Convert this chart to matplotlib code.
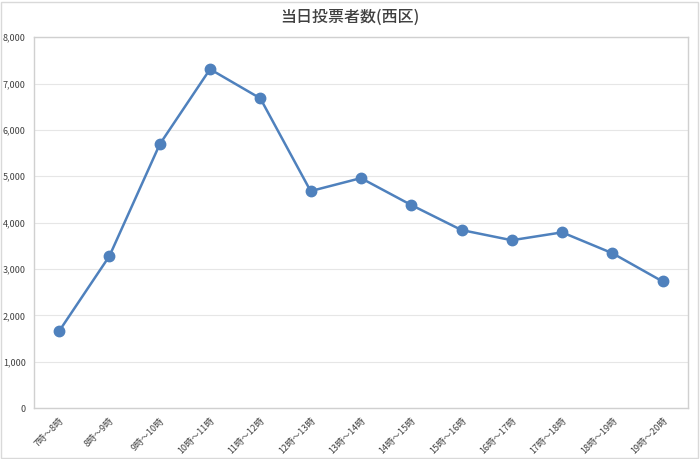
import matplotlib.pyplot as plt
from matplotlib.ticker import FuncFormatter, MultipleLocator
from matplotlib.patches import Rectangle

plt.rcParams['font.family'] = ['Noto Sans CJK JP', 'DejaVu Sans']

hours = ["7時～8時", "8時～9時", "9時～10時", "10時～11時", "11時～12時", "12時～13時",
         "13時～14時", "14時～15時", "15時～16時", "16時～17時", "17時～18時",
         "18時～19時", "19時～20時"]
voters = [1660, 3280, 5690, 7310, 6680, 4680, 4960, 4380, 3840, 3620, 3790, 3340, 2730]

fig = plt.figure(figsize=(7, 4.59), dpi=100)
ax = fig.add_axes([0.0486, 0.111, 0.934, 0.808])

x = range(len(hours))
ax.plot(x, voters, color="#4F81BD", linewidth=1.8, marker="o", markersize=7.5, zorder=3)

ax.set_xlim(-0.5, len(hours) - 0.5)
ax.set_ylim(0, 8000)
ax.yaxis.set_major_locator(MultipleLocator(1000))
ax.yaxis.set_major_formatter(FuncFormatter(lambda v, p: f"{int(v):,}"))
ax.grid(axis="y", color="#E6E6E6", linewidth=0.8)
ax.set_axisbelow(True)

ax.set_xticks(list(x))
ax.set_xticklabels(hours, rotation=45, ha="right", rotation_mode="anchor", fontsize=6.5, color="#404040")
ax.tick_params(axis="y", labelsize=6.5, labelcolor="#404040", length=0, pad=6)
ax.tick_params(axis="x", length=0, pad=6)
for s in ax.spines.values():
    s.set_color("#D0D0D0")
    s.set_linewidth(1)

fig.text(0.5, 0.962, "当日投票者数(西区)", ha="center", va="center", fontsize=11.5,
         fontweight="medium", color="#404040")

fig.patches.append(Rectangle((0.002, 0.003), 0.995, 0.993, transform=fig.transFigure,
                             fill=False, edgecolor="#D9D9D9", linewidth=1))

fig.savefig("out.png", dpi=100)
